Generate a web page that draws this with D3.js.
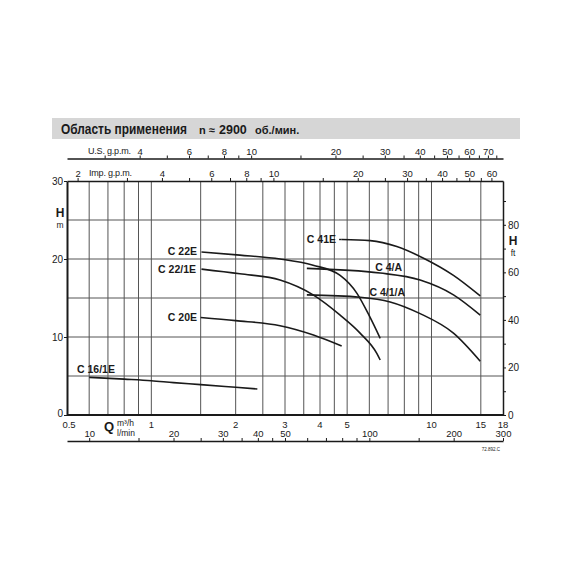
<!DOCTYPE html>
<html><head><meta charset="utf-8">
<script src="https://cdn.jsdelivr.net/npm/d3@7"></script>
<style>
body{margin:0;background:#fff;}
svg{display:block;font-family:"Liberation Sans",Arial,sans-serif;}
</style></head><body>
<svg id="c" width="570" height="570"></svg>
<script>
// ---- data ----
const title = "Область применения";
const speedN = "n ≈";
const speedVal = "2900";
const speedUnit = "об./мин.";

const gridQ = [0.6,0.7,0.8,0.9,1,1.5,2,2.5,3,3.5,4,4.5,5,6,7,8,9,10,15];
const gridH = [5,10,15,20,25];
const qLabels = [0.5,1,2,3,4,5,10,15,18];
const hTicks = [0,10,20,30];
const ftTicks = [0,10,20,30,40,50,60,70,80,90];
const ftLabels = [0,20,40,60,80];
const usTicks = [3,4,5,6,7,8,9,10,15,20,25,30,35,40,45,50,55,60,65,70,75];
const usLabels = [4,6,8,10,20,30,40,50,60,70];
const impTicks = [2,3,4,5,6,7,8,9,10,15,20,25,30,35,40,45,50,55,60];
const impLabels = [2,4,6,8,10,20,30,40,50,60];
const lminTicks = [10,15,20,25,30,35,40,45,50,60,70,80,90,100,150,200,300];
const lminLabels = [10,20,30,40,50,100,200,300];

const c22E_Q  = [1.51, 2.07, 2.88, 3.78, 4.72, 5.42, 6.02, 6.56];
const c22E_H  = [20.9, 20.5, 20.0, 19.2, 17.9, 15.6, 12.6, 9.83];
const c221E_Q = [1.51, 2.07, 2.88, 3.78, 4.72, 5.56, 6.38, 6.56];
const c221E_H = [18.7, 18.1, 17.3, 15.4, 12.8, 10.5, 7.9, 7.05];
const c20E_Q  = [1.5, 2.0, 2.88, 3.79, 4.78];
const c20E_H  = [12.5, 12.1, 11.45, 10.26, 8.85];
const c161E_Q = [0.6, 0.8, 1.0, 1.2, 1.5, 2.0, 2.39];
const c161E_H = [4.83, 4.6, 4.4, 4.15, 3.9, 3.55, 3.33];
const c41E_Q  = [4.78, 6.04, 7.52, 9.37, 11.98, 14.93];
const c41E_H  = [22.5, 22.35, 21.6, 20.1, 17.9, 15.26];
const c4A_Q   = [3.59, 6.56, 9.11, 11.98, 14.93];
const c4A_H   = [18.8, 18.2, 17.3, 15.4, 12.8];
const c41A_Q  = [3.59, 5.56, 7.12, 9.11, 11.98, 14.93];
const c41A_H  = [15.4, 15.1, 14.5, 13.0, 10.5, 6.9];

const curveNames = ["C 22E","C 22/1E","C 20E","C 16/1E","C 41E","C 4/A","C 4/1/A"];
const curveQ = [c22E_Q,c221E_Q,c20E_Q,c161E_Q,c41E_Q,c4A_Q,c41A_Q];
const curveH = [c22E_H,c221E_H,c20E_H,c161E_H,c41E_H,c4A_H,c41A_H];

const US = 4.4029, IMP = 3.6662, LMIN = 16.6667, FT = 3.28084;

// ---- scales ----
const L = 67, R = 503, T = 181, B = 415;
const x = d3.scaleLog().domain([0.5, 18]).range([L, R]);
const y = d3.scaleLinear().domain([0, 30]).range([B, T]);
const yft = d3.scaleLinear().domain([0, 30*FT]).range([B, T]);
const xUS = d3.scaleLog().domain([0.5*US, 18*US]).range([L, R]);
const xIMP = d3.scaleLog().domain([0.5*IMP, 18*IMP]).range([L, R]);
const xLM = d3.scaleLog().domain([0.5*LMIN, 18*LMIN]).range([L, R]);

const svg = d3.select("#c");
const ink = "#1a1a1a";

// title band
svg.append("rect").attr("x",52).attr("y",118).attr("width",468).attr("height",21).attr("fill","#d6d6d6");
svg.append("text").attr("transform","translate(61,134) scale(0.85,1)").attr("fill",ink).attr("font-size",14).attr("font-weight","bold").text(title);
svg.append("text").attr("x",199).attr("y",134).attr("fill",ink).attr("font-size",11).attr("font-weight","bold").text(speedN);
svg.append("text").attr("x",219).attr("y",134).attr("fill",ink).attr("font-size",12.5).attr("font-weight","bold").text(speedVal);
svg.append("text").attr("x",255).attr("y",134).attr("fill",ink).attr("font-size",11).attr("font-weight","bold").text(speedUnit);

// grid
const g = svg.append("g");
g.selectAll(".vg").data(gridQ).join("line")
  .attr("x1",d=>x(d)).attr("x2",d=>x(d)).attr("y1",T).attr("y2",B)
  .attr("stroke","#555").attr("stroke-width",1);
g.selectAll(".hg").data(gridH).join("line")
  .attr("x1",L).attr("x2",R).attr("y1",d=>y(d)).attr("y2",d=>y(d))
  .attr("stroke","#555").attr("stroke-width",1);

function styleAxis(sel, fs){
  sel.selectAll("text").attr("font-size",fs).attr("fill",ink).attr("font-family","Liberation Sans, Arial, sans-serif");
  sel.selectAll("line").attr("stroke",ink);
  sel.selectAll("path").attr("stroke",ink);
}
const fmt = arr => d => arr.includes(d) ? String(d) : "";

// US gpm axis
const aUS = svg.append("g").attr("transform",`translate(0,158.5)`)
  .call(d3.axisTop(xUS).tickValues(usTicks).tickFormat(fmt(usLabels)).tickSize(3).tickSizeOuter(0).tickPadding(1));
styleAxis(aUS, 9.5);
aUS.select("path").attr("stroke-width",1.3);
svg.append("text").attr("x",88).attr("y",154).attr("font-size",9).attr("textLength",43).attr("fill",ink).text("U.S. g.p.m.");

// Imp gpm axis (top border)
const aIMP = svg.append("g").attr("transform",`translate(0,${T})`)
  .call(d3.axisTop(xIMP).tickValues(impTicks).tickFormat(fmt(impLabels)).tickSize(3).tickSizeOuter(0).tickPadding(1));
styleAxis(aIMP, 9.5);
aIMP.select("path").attr("stroke-width",1.5);
svg.append("text").attr("x",89).attr("y",176).attr("font-size",9).attr("textLength",43).attr("fill",ink).text("Imp. g.p.m.");

// left H axis
const aH = svg.append("g").attr("transform",`translate(${L},0)`)
  .call(d3.axisLeft(y).tickValues(hTicks).tickFormat(d3.format("d")).tickSize(3).tickSizeOuter(0).tickPadding(1));
styleAxis(aH, 10);
aH.selectAll(".tick text").filter(d=>d===0).attr("dy","0.1em");
aH.select("path").attr("stroke-width",2);
svg.append("text").attr("x",60).attr("y",217).attr("text-anchor","middle").attr("font-size",12).attr("font-weight","bold").attr("fill",ink).text("H");
svg.append("text").attr("x",60).attr("y",227.5).attr("text-anchor","middle").attr("font-size",8.5).attr("fill",ink).text("m");

// right ft axis
const aFT = svg.append("g").attr("transform",`translate(${R},0)`)
  .call(d3.axisRight(yft).tickValues(ftTicks).tickFormat(fmt(ftLabels)).tickSize(3).tickSizeOuter(0).tickPadding(2));
styleAxis(aFT, 10);
aFT.select("path").attr("stroke-width",1.5);
svg.append("text").attr("x",513).attr("y",245).attr("text-anchor","middle").attr("font-size",12).attr("font-weight","bold").attr("fill",ink).text("H");
svg.append("text").attr("x",513).attr("y",255.5).attr("text-anchor","middle").attr("font-size",8.5).attr("fill",ink).text("ft");

// bottom border + Q labels
svg.append("line").attr("x1",L).attr("x2",R).attr("y1",B).attr("y2",B).attr("stroke",ink).attr("stroke-width",2);
svg.append("g").selectAll("text").data(qLabels).join("text")
  .attr("x",d=>x(d) + (d===0.5 ? 2 : 0)).attr("y",427.5).attr("text-anchor","middle").attr("font-size",9.5).attr("fill",ink).text(d=>String(d));

// l/min axis
const aLM = svg.append("g").attr("transform",`translate(0,441)`)
  .call(d3.axisTop(xLM).tickValues(lminTicks).tickFormat(fmt(lminLabels)).tickSize(3).tickSizeOuter(0).tickPadding(1));
styleAxis(aLM, 9.5);
aLM.select("path").attr("stroke-width",1.3);

svg.append("text").attr("x",109).attr("y",431).attr("text-anchor","middle").attr("font-size",13).attr("font-weight","bold").attr("fill",ink).text("Q");
svg.append("text").attr("x",117).attr("y",426).attr("font-size",8.5).attr("fill",ink).text("m³/h");
svg.append("text").attr("x",117).attr("y",436).attr("font-size",8.5).attr("fill",ink).text("l/min");
svg.append("text").attr("x",500).attr("y",451).attr("text-anchor","end").attr("font-size",4.5).attr("fill",ink).text("72.892.C");

// curves
const line = d3.line().x(d=>x(d[0])).y(d=>y(d[1])).curve(d3.curveMonotoneX);
curveQ.forEach((qs,i)=>{
  const pts = qs.map((q,j)=>[q, curveH[i][j]]);
  svg.append("path").attr("d",line(pts)).attr("fill","none").attr("stroke",ink).attr("stroke-width",1.6);
});
// leader for C 41E
svg.append("line").attr("x1",x(4.68)).attr("x2",x(4.78)).attr("y1",y(22.5)).attr("y2",y(22.5)).attr("stroke",ink).attr("stroke-width",1.4);

// curve labels
const labPos = [[197,255,"end"],[196,273,"end"],[197,321,"end"],[77,373,"start"],[336,243,"end"],[402,271,"end"],[405,296,"end"]];
curveNames.forEach((n,i)=>{
  svg.append("text").attr("x",labPos[i][0]).attr("y",labPos[i][1]).attr("text-anchor",labPos[i][2])
    .attr("font-size",10.5).attr("font-weight","bold").attr("fill",ink).text(n);
});
</script>
</body></html>
